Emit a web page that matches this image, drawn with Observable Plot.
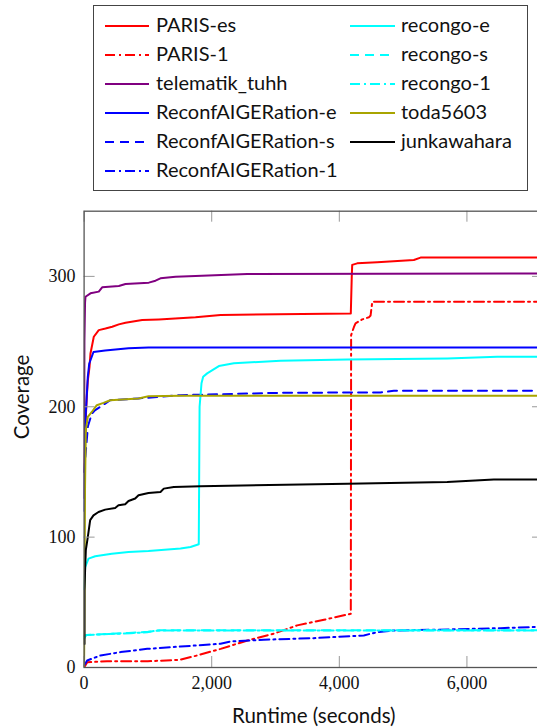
<!DOCTYPE html>
<html>
<head>
<meta charset="utf-8">
<script src="https://cdn.jsdelivr.net/npm/d3@7"></script>
<script src="https://cdn.jsdelivr.net/npm/@observablehq/plot@0.6"></script>
<style>
  html, body { margin: 0; padding: 0; background: #fff; overflow: hidden; width: 537px; height: 727px; }
  #legend { position: absolute; left: 93px; top: 5px; width: 433px; height: 184px; border: 1.3px solid #444; box-sizing: content-box; }
  .item { position: absolute; font-family: Lato, sans-serif; font-size: 20px; color: #111; line-height: 1; white-space: nowrap; }
  #chart { position: absolute; left: 0; top: 195px; }
  #chart svg { overflow: hidden; }
</style>
</head>
<body>
<div id="legend"></div>
<div id="chart"></div>
<script>
// ---- data: [runtime (s), coverage] ----
const parisEs = [[0,150],[27,192],[42,207.6],[58,220],[85,230.6],[100,240.9],[152,253.7],[230,258.8],[335,260],[440,261.4],[544,263.2],[649,264.5],[910,266.5],[1171,267],[1746,268.6],[2140,270.4],[4180,271.5],[4195,300],[4202,308.8],[4280,310],[4594,310.8],[5168,312.6],[5273,314.4],[7200,314.4]];
const paris1 = [[0,0],[50,4],[360,4.8],[1000,4.8],[1500,5.9],[1770,9.2],[2140,14.3],[2560,20.7],[2970,25.9],[3340,32.3],[3760,36.6],[4180,41.2],[4185,255],[4228,261],[4254,264],[4359,267],[4463,268.6],[4490,270],[4516,280.5],[7200,280.5]];
const telematik = [[0,130],[5,250],[15,280],[22,284.4],[100,287],[230,288.3],[283,291.6],[544,292.6],[649,294.2],[1014,295.2],[1119,296.7],[1197,298.5],[1433,299.8],[1746,300.3],[2556,301.8],[7200,302.3]];
const reconfE = [[0,120],[15,170],[27,194.8],[58,223],[80,233],[147,242],[330,243.2],[696,244.8],[1009,245.5],[7200,245.5]];
const reconfS = [[0,150],[60,185],[121,194.8],[174,197.4],[409,205],[853,206.4],[1511,208.9],[3078,210.7],[4646,211],[4855,212.2],[7200,212.2]];
const reconf1 = [[0,1.5],[48,5.4],[257,9.2],[571,11.8],[989,14.3],[1511,16.1],[2138,18.2],[2295,20],[2817,21.3],[3600,22.5],[4384,24.6],[4594,27.1],[4854,28.4],[5743,29.2],[6527,30.2],[7049,31],[7200,31]];
const recongoE = [[0,60],[17,77],[69,83.5],[174,85.3],[434,87.3],[696,88.6],[1009,89.3],[1511,91.2],[1668,92.4],[1797,94.5],[1810,200],[1840,218],[1866,223],[1929,225.6],[2112,231.2],[2347,233.3],[3078,235.3],[4124,236.3],[5691,237.1],[6474,238.3],[7200,238.3]];
const recongoS = [[0,22],[30,25],[700,26.5],[1000,27.4],[1200,28.5],[7200,28.5]];
const recongo1 = [[0,24],[50,25],[730,26.3],[990,27.1],[1150,28.4],[7200,28.4]];
const toda = [[0,0],[15,140],[27,182],[58,192.2],[121,196],[199,201.2],[304,203],[409,205],[853,206.4],[1009,208.1],[1511,208.4],[7200,208.4]];
const junkawahara = [[6,18],[6,59],[17,77],[27,90],[58,100],[95,113],[147,116.7],[226,119.3],[330,121.1],[487,122.4],[539,124.4],[644,125.2],[696,127.7],[801,129.6],[853,132.1],[1009,133.9],[1197,134.6],[1249,137.2],[1406,138.5],[1824,139],[4124,141],[5691,142.3],[6422,144.2],[7200,144.2]];

const names = ["PARIS-es","PARIS-1","telematik_tuhh","ReconfAIGERation-e","ReconfAIGERation-s","ReconfAIGERation-1","recongo-e","recongo-s","recongo-1","toda5603","junkawahara"];
const values = [parisEs, paris1, telematik, reconfE, reconfS, reconf1, recongoE, recongoS, recongo1, toda, junkawahara];
const xTicks = [0, 2000, 4000, 6000];
const yTicks = [0, 100, 200, 300];
const xDomain = [0, 7200];
const yDomain = [0, 350];
const xLabel = "Runtime (seconds)";
const yLabel = "Coverage";

// ---- styles ----
const colors = ["#ff0000","#ff0000","#800080","#0000ff","#0000ff","#0000ff","#00ffff","#00ffff","#00ffff","#a8a400","#000000"];
const DASH = "9,6", DASHDOT = "10,4,2,4";
const dashes = [null, DASHDOT, null, null, DASH, DASHDOT, null, DASH, DASHDOT, null, null];

// ---- legend ----
const legend = document.getElementById("legend");
const colX = [[10, 54, 62], [255, 300, 307]];
names.forEach((name, i) => {
  const col = i < 6 ? 0 : 1;
  const row = i < 6 ? i : i - 6;
  const cy = 19.5 + row * 29;
  const [lx0, lx1, tx] = colX[col];
  const s = document.createElementNS("http://www.w3.org/2000/svg", "svg");
  s.setAttribute("width", lx1 - lx0 + 2); s.setAttribute("height", 6);
  s.style.position = "absolute"; s.style.left = lx0 + "px"; s.style.top = (cy - 3) + "px";
  const ln = document.createElementNS("http://www.w3.org/2000/svg", "line");
  ln.setAttribute("x1", 1); ln.setAttribute("x2", lx1 - lx0 + 1); ln.setAttribute("y1", 3); ln.setAttribute("y2", 3);
  ln.setAttribute("stroke", colors[i]); ln.setAttribute("stroke-width", 2);
  if (dashes[i]) ln.setAttribute("stroke-dasharray", dashes[i]);
  s.appendChild(ln);
  legend.appendChild(s);
  const t = document.createElement("div");
  t.className = "item"; t.textContent = name;
  t.style.left = tx + "px"; t.style.top = (cy - 12) + "px";
  legend.appendChild(t);
});

// ---- chart ----
const W = 537, H = 532, mL = 83.6, mR = -6, mT = 15.7, mB = 60;
const plotW = W - mL - mR, plotH = H - mT - mB;
const TK = 11;

const marks = [];
values.forEach((data, i) => {
  marks.push(Plot.line(data, {x: d => d[0], y: d => d[1], stroke: colors[i], strokeWidth: 2, strokeDasharray: dashes[i] || undefined, clip: true}));
});
marks.push(
  Plot.tickX(xTicks, {x: d => d, insetTop: plotH - TK, stroke: "#999", strokeWidth: 1}),
  Plot.tickX(xTicks, {x: d => d, insetBottom: plotH - TK, stroke: "#999", strokeWidth: 1}),
  Plot.tickY(yTicks, {y: d => d, insetRight: plotW - TK, stroke: "#999", strokeWidth: 1}),
  Plot.tickY(yTicks, {y: d => d, insetLeft: plotW - TK, stroke: "#999", strokeWidth: 1}),
  Plot.frame({stroke: "#555", strokeWidth: 1.3}),
  Plot.text(xTicks, {x: d => d, frameAnchor: "bottom", dy: 9, text: d3.format(","), lineAnchor: "top", fill: "#111", fontFamily: "Liberation Serif", fontSize: 18}),
  Plot.text(yTicks, {y: d => d, frameAnchor: "left", dx: -8.6, text: d => String(d), textAnchor: "end", fill: "#111", fontFamily: "Liberation Serif", fontSize: 18}),
  Plot.text([xLabel], {frameAnchor: "bottom", dy: 49, text: d => d, fill: "#111", lineAnchor: "middle", fontFamily: "Lato", fontSize: 20.5}),
  Plot.text([yLabel], {frameAnchor: "left", dx: -62, text: d => d, rotate: -90, fill: "#111", lineAnchor: "middle", fontFamily: "Lato", fontSize: 20.5})
);

const chart = Plot.plot({
  width: W, height: H,
  marginLeft: mL, marginRight: mR, marginTop: mT, marginBottom: mB,
  x: {domain: xDomain, axis: null},
  y: {domain: yDomain, axis: null},
  style: {background: "white", overflow: "hidden"},
  marks
});
document.getElementById("chart").appendChild(chart);
</script>
</body>
</html>
